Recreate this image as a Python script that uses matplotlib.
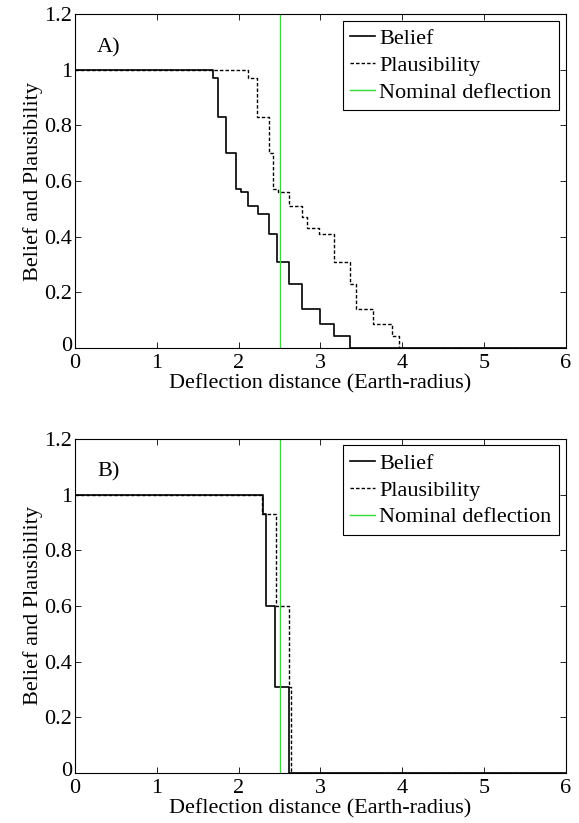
import matplotlib
matplotlib.use('Agg')
import matplotlib.pyplot as plt
from matplotlib.ticker import FormatStrFormatter
from matplotlib.transforms import ScaledTranslation

plt.rcParams['font.family'] = ['Liberation Serif', 'DejaVu Serif']
plt.rcParams['font.size'] = 16

# panel A
belief_a_x = [0, 1.69, 1.75, 1.85, 1.97, 2.03, 2.11, 2.24, 2.37, 2.47, 2.62, 2.78, 2.99, 3.16, 3.36, 6]
belief_a_y = [1, 0.97, 0.83, 0.70, 0.57, 0.56, 0.51, 0.48, 0.41, 0.31, 0.23, 0.14, 0.085, 0.043, 0, 0]
plaus_a_x = [0, 2.11, 2.22, 2.37, 2.42, 2.48, 2.62, 2.77, 2.84, 2.98, 3.16, 3.36, 3.44, 3.64, 3.88, 3.96, 6]
plaus_a_y = [1, 0.97, 0.83, 0.70, 0.57, 0.56, 0.51, 0.47, 0.43, 0.41, 0.31, 0.23, 0.14, 0.085, 0.043, 0, 0]

# panel B
belief_b_x = [0, 2.30, 2.33, 2.45, 2.61, 6]
belief_b_y = [1, 0.93, 0.60, 0.31, 0, 0]
plaus_b_x = [0, 2.29, 2.46, 2.61, 2.64, 6]
plaus_b_y = [1, 0.93, 0.60, 0.31, 0, 0]

nominal = 2.5
xticks = [0, 1, 2, 3, 4, 5, 6]
yticks = [0, 0.2, 0.4, 0.6, 0.8, 1, 1.2]

fig = plt.figure(figsize=(5.79, 8.23), dpi=100)
ax_a = fig.add_axes([0.1295, 0.577, 0.848, 0.406])
ax_b = fig.add_axes([0.1295, 0.0608, 0.848, 0.406])

panels = [(ax_a, belief_a_x, belief_a_y, plaus_a_x, plaus_a_y, 'A)'),
          (ax_b, belief_b_x, belief_b_y, plaus_b_x, plaus_b_y, 'B)')]

for ax, bx, by, px, py, tag in panels:
    ax.step(bx, by, where='post', color='black', lw=1.2, label='Belief')
    ax.step(px, py, where='post', color='black', lw=1.0, ls=(0, (2.5, 1.5)), label='Plausibility')
    ax.axvline(nominal, color='#33dd33', lw=1.0, label='Nominal deflection')
    ax.set_xlim(0, 6)
    ax.set_ylim(0, 1.2)
    ax.set_xticks(xticks)
    ax.set_yticks(yticks)
    ax.yaxis.set_major_formatter(FormatStrFormatter('%g'))
    ax.tick_params(direction='in', top=True, right=True, length=4, width=0.6, pad=2)
    ax.tick_params(axis='x', pad=4)
    for s in ax.spines.values():
        s.set_linewidth(0.8)
    # nudge the y "0" up a bit, like matlab does
    lab0 = ax.yaxis.get_major_ticks()[0].label1
    lab0.set_transform(lab0.get_transform() + ScaledTranslation(0, 3 / 72, fig.dpi_scale_trans))
    ax.set_xlabel('Deflection distance (Earth-radius)', labelpad=1)
    ax.set_ylabel('Belief and Plausibility', labelpad=1)
    ax.text(0.27, 1.08, tag, va='center', ha='left')
    leg = ax.legend(loc='upper right', fancybox=False, framealpha=1, edgecolor='black',
                    handlelength=1.1, handletextpad=0.2, borderpad=0.35, labelspacing=0.28,
                    borderaxespad=0.3)
    leg.get_frame().set_linewidth(0.8)

fig.savefig('out.png', dpi=100)
